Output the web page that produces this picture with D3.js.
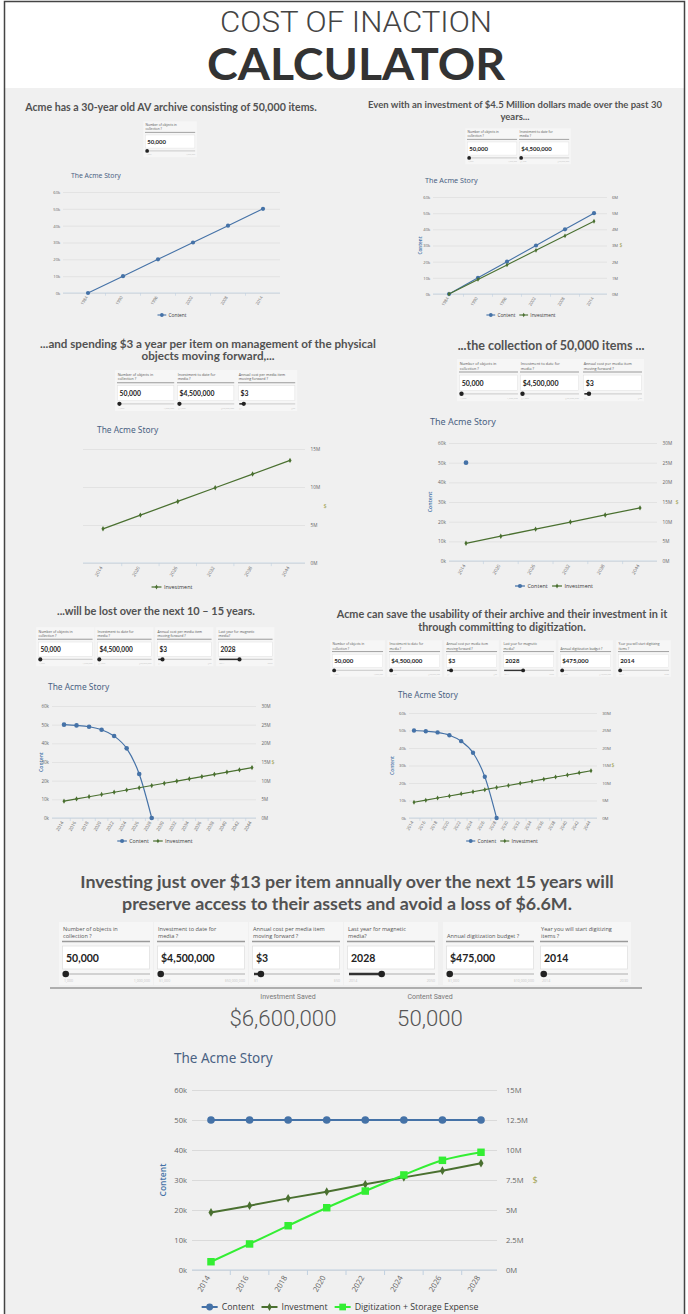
<!DOCTYPE html>
<html>
<head>
<meta charset="utf-8">
<script src="https://cdn.jsdelivr.net/npm/d3@7"></script>
<style>
body { margin: 0; background: #fff; }
svg text { font-family: "Open Sans", "DejaVu Sans", sans-serif; }
</style>
</head>
<body>
<svg id="page" width="688" height="1314"></svg>
<script>
// ---- data ----
var yearsPast = ["1984", "1990", "1996", "2002", "2008", "2014"]
var yearsFwd6 = ["2014", "2020", "2026", "2032", "2038", "2044"]
var yearsFwd2 = ["2014", "2016", "2018", "2020", "2022", "2024", "2026", "2028",
                 "2030", "2032", "2034", "2036", "2038", "2040", "2042", "2044"]
var yearsDigi = ["2014", "2016", "2018", "2020", "2022", "2024", "2026", "2028"]

var contentPast = [0, 10000, 20000, 30000, 40000, 50000]
var investPast  = [0, 900000, 1800000, 2700000, 3600000, 4500000]
var contentFwd6 = [50000, null, null, null, null, null]
var investFwd6  = [4500000, 6300000, 8100000, 9900000, 11700000, 13500000]
var contentLoss = [50000, 49600, 48900, 47300, 43900, 37300, 23600, 0,
                   null, null, null, null, null, null, null, null]
var investFwd2  = [4500000, 5100000, 5700000, 6300000, 6900000, 7500000, 8100000, 8700000,
                   9300000, 9900000, 10500000, 11100000, 11700000, 12300000, 12900000, 13500000]
var contentDigi = [50000, 50000, 50000, 50000, 50000, 50000, 50000, 50000]
var investDigi  = [4800000, 5360000, 5970000, 6530000, 7140000, 7720000, 8280000, 8900000]
var digiExpense = [690000, 2170000, 3690000, 5190000, 6580000, 7920000, 9140000, 9810000]

var contentTicks = [0, 10000, 20000, 30000, 40000, 50000, 60000]
var dollarTicks6  = [0, 1e6, 2e6, 3e6, 4e6, 5e6, 6e6]
var dollarTicks15 = [0, 5e6, 10e6, 15e6]
var dollarTicks30 = [0, 5e6, 10e6, 15e6, 20e6, 25e6, 30e6]
var dollarTicksDigi = [0, 2.5e6, 5e6, 7.5e6, 10e6, 12.5e6, 15e6]

var inputLabels = [["Number of objects in", "collection ?"], ["Investment to date for", "media ?"],
                   ["Annual cost per media item", "moving forward ?"], ["Last year for magnetic", "media?"],
                   ["Annual digitization budget ?"], ["Year you will start digitizing", "items ?"]]
var inputValues = ["50,000", "$4,500,000", "$3", "2028", "$475,000", "2014"]
var inputMin = ["1,000", "$1,000", "$1", "2014", "$1,000", "2014"]
var inputMax = ["1,000,000", "$50,000,000", "$50", "2050", "$10,000,000", "2030"]
var inputPos = [0.02, 0.02, 0.08, 0.38, 0.02, 0.02]

var savedLabels = ["Investment Saved", "Content Saved"]
var savedValues = ["$6,600,000", "50,000"]

var CONTENT = { name: "Content", color: "#4572a7", sym: d3.symbolCircle, size: 46 }
var INVEST  = { name: "Investment", color: "#4a7030", sym: d3.symbolDiamond, size: 22 }
var DIGI    = { name: "Digitization + Storage Expense", color: "#33ee33", sym: d3.symbolSquare, size: 56 }

var svg = d3.select("#page")
var fmtK = function(d) { return d / 1000 + "k" }
var fmtM = function(d) { return d / 1e6 + "M" }

// page background and frame
svg.append("rect").attr("width", 688).attr("height", 1314).attr("fill", "#fff")
svg.append("rect").attr("x", 5).attr("y", 88).attr("width", 679).attr("height", 1226).attr("fill", "#f0f0f0")
svg.append("rect").attr("x", 4.5).attr("y", 1.5).attr("width", 680).attr("height", 1330)
   .attr("fill", "none").attr("stroke", "#444").attr("stroke-width", 1.5)

// header
svg.append("text").attr("x", 356).attr("y", 32).attr("text-anchor", "middle")
   .attr("textLength", 272).attr("lengthAdjust", "spacingAndGlyphs")
   .style("font-family", "Roboto").style("font-weight", 300).style("font-size", "29px")
   .attr("fill", "#444").text("COST OF INACTION")
svg.append("text").attr("x", 356).attr("y", 80).attr("text-anchor", "middle")
   .attr("textLength", 298).attr("lengthAdjust", "spacingAndGlyphs")
   .style("font-family", "Lato").style("font-weight", 700).style("font-size", "43px")
   .attr("fill", "#333").text("CALCULATOR")

function fitText(t, w) {
  var fs = parseFloat(t.style("font-size"))
  fs = fs * w / t.node().getComputedTextLength()
  t.style("font-size", fs + "px")
  return fs
}

// story headings
var headings = [
  { lines: ["Acme has a 30-year old AV archive consisting of 50,000 items."], cx: 171, cy: 107, w: 292 },
  { lines: ["Even with an investment of $4.5 Million dollars made over the past 30", "years..."], cx: 515, cy: 105, w: 294, lh: 12 },
  { lines: ["...and spending $3 a year per item on management of the physical", "objects moving forward,..."], cx: 208, cy: 344, w: 336, lh: 12 },
  { lines: ["...the collection of 50,000 items ..."], cx: 551, cy: 346, w: 187 },
  { lines: ["...will be lost over the next 10 \u2013 15 years."], cx: 156, cy: 611, w: 198 },
  { lines: ["Acme can save the usability of their archive and their investment in it", "through committing to digitization."], cx: 502, cy: 614, w: 331, lh: 13 },
  { lines: ["Investing just over $13 per item annually over the next 15 years will", "preserve access to their assets and avoid a loss of $6.6M."], cx: 347, cy: 882, w: 534, lh: 22 }
]
headings.forEach(function(h) {
  var fs
  h.lines.forEach(function(l, j) {
    var t = svg.append("text").attr("x", h.cx).attr("text-anchor", "middle")
       .style("font-family", "Lato").style("font-weight", 700).style("font-size", "10px")
       .attr("fill", "#525252").text(l)
    if (j == 0) fs = fitText(t, h.w)
    else t.style("font-size", fs + "px")
    t.attr("y", h.cy + j * (h.lh || 0) + fs * 0.35)
  })
})

// input widgets
function drawInput(i, x, y, s) {
  var g = svg.append("g").attr("transform", "translate(" + x + "," + y + ") scale(" + s + ")")
  g.append("rect").attr("x", -3).attr("y", -3).attr("width", 94).attr("height", 63).attr("fill", "#f6f6f6")
  var lines = inputLabels[i]
  lines.forEach(function(l, j) {
    g.append("text").attr("x", 1).attr("y", lines.length == 1 ? 13 : 6 + 7 * j)
     .style("font-size", "5.6px").attr("fill", "#555").text(l)
  })
  g.append("line").attr("x1", 0).attr("x2", 88).attr("y1", 16.5).attr("y2", 16.5)
   .attr("stroke", "#9a9a9a").attr("stroke-width", 1.6)
  g.append("rect").attr("x", 0.5).attr("y", 21).attr("width", 87).attr("height", 23)
   .attr("fill", "#fff").attr("stroke", "#e0e0e0").attr("stroke-width", 0.8)
  g.append("text").attr("x", 4).attr("y", 37).style("font-family", "Lato").style("font-size", "10.5px")
   .style("font-weight", 700).attr("fill", "#222").text(inputValues[i])
  g.append("line").attr("x1", 2).attr("x2", 88).attr("y1", 49).attr("y2", 49)
   .attr("stroke", "#d2d2d2").attr("stroke-width", 2)
  var hx = 2 + inputPos[i] * 86
  g.append("line").attr("x1", 2).attr("x2", hx).attr("y1", 49).attr("y2", 49)
   .attr("stroke", "#333").attr("stroke-width", 2.4)
  g.append("circle").attr("cx", hx).attr("cy", 49).attr("r", 3.3).attr("fill", "#222")
  g.append("text").attr("x", 2).attr("y", 57).style("font-size", "3.6px").attr("fill", "#c6c6c6").text(inputMin[i])
  g.append("text").attr("x", 88).attr("y", 57).attr("text-anchor", "end").style("font-size", "3.6px")
   .attr("fill", "#c6c6c6").text(inputMax[i])
}

var inputSets = [
  { ids: [0], xs: [145], y: 123, s: 0.57 },
  { ids: [0, 1], xs: [467, 519], y: 130, s: 0.57 },
  { ids: [0, 1, 2], xs: [117, 177, 238], y: 372, s: 0.65 },
  { ids: [0, 1, 2], xs: [459, 520, 583], y: 361, s: 0.67 },
  { ids: [0, 1, 2, 3], xs: [38, 97, 157, 218], y: 629, s: 0.62 },
  { ids: [0, 1, 2, 3, 4, 5], xs: [332, 389, 446, 503, 560, 618], y: 642, s: 0.58 },
  { ids: [0, 1, 2, 3, 4, 5], xs: [62, 157, 252, 347, 446, 540], y: 925, s: 1 }
]
inputSets.forEach(function(set) {
  set.ids.forEach(function(id, j) { drawInput(id, set.xs[j], set.y, set.s) })
})

// results row
svg.append("line").attr("x1", 50).attr("x2", 642).attr("y1", 988).attr("y2", 988)
   .attr("stroke", "#999").attr("stroke-width", 1.6)
var savedX = [283, 430]
var bigFs
savedValues.forEach(function(v, i) {
  svg.append("text").attr("x", savedX[i] + (i == 0 ? 5 : 0)).attr("y", 999).attr("text-anchor", "middle")
     .style("font-family", "Roboto").style("font-size", "7px").attr("fill", "#777").text(savedLabels[i])
  var t = svg.append("text").attr("x", savedX[i]).attr("y", 1026).attr("text-anchor", "middle")
     .style("font-family", "Roboto").style("font-weight", 300).style("font-size", "24px")
     .attr("fill", "#555").text(v)
  if (i == 0) bigFs = fitText(t, 107)
  else t.style("font-size", bigFs + "px")
})

// charts
function drawLegend(items, cx, y, k) {
  var g = svg.append("g")
  var xcur = 0
  items.forEach(function(it) {
    var ig = g.append("g").attr("transform", "translate(" + xcur + ",0)")
    ig.append("line").attr("x1", 0).attr("x2", 16 * k).attr("stroke", it.color).attr("stroke-width", 2 * k)
    ig.append("path").attr("transform", "translate(" + 8 * k + ",0)")
      .attr("d", d3.symbol().type(it.sym).size(it.size * 0.8 * k * k)).attr("fill", it.color)
    var t = ig.append("text").attr("x", 20 * k).attr("dy", "0.35em").style("font-size", 8.8 * k + "px")
      .attr("fill", "#3a3a3a").text(it.name)
    xcur += 20 * k + t.node().getComputedTextLength() + 7 * k
  })
  var total = xcur - 7 * k
  g.attr("transform", "translate(" + (cx - total / 2) + "," + y + ")")
}

function drawChart(c) {
  var k = c.k
  var g = svg.append("g")
  var x = d3.scalePoint().domain(c.cats).range(c.pts)
  var yL = d3.scaleLinear().domain([0, 60000]).range([c.yBot, c.yTop])
  var yR = c.rightTicks ? d3.scaleLinear().domain([0, c.rightTicks[c.rightTicks.length - 1]]).range([c.yBot, c.yTop]) : null
  var gw = c.grid[1] - c.grid[0]
  var fs = 7.6 * k

  g.append("text").attr("x", c.title[0]).attr("y", c.title[1])
   .style("font-family", "Noto Sans").style("font-size", c.title[2] + "px")
   .attr("fill", "#4a6283").text("The Acme Story")

  var gs = c.leftLabels ? yL : yR
  var gt = c.leftLabels ? contentTicks : c.rightTicks
  g.append("g").attr("transform", "translate(" + c.grid[0] + ",0)")
   .call(d3.axisLeft(gs).tickValues(gt).tickSize(-gw).tickFormat(""))
   .call(function(a) {
     a.select(".domain").remove()
     a.selectAll("line").attr("stroke", "#dadada").attr("stroke-width", Math.max(0.6, k))
   })

  if (c.leftLabels) {
    g.append("g").attr("transform", "translate(" + (c.grid[0] - 5 * k) + ",0)")
     .call(d3.axisLeft(yL).tickValues(contentTicks).tickSize(0).tickPadding(0).tickFormat(fmtK))
     .call(function(a) {
       a.select(".domain").remove()
       a.selectAll("text").style("font-size", fs + "px").attr("fill", "#666")
     })
  }
  if (yR) {
    g.append("g").attr("transform", "translate(" + (c.grid[1] + 9 * k) + ",0)")
     .call(d3.axisRight(yR).tickValues(c.rightTicks).tickSize(0).tickPadding(0).tickFormat(fmtM))
     .call(function(a) {
       a.select(".domain").remove()
       a.selectAll("text").style("font-size", fs + "px").attr("fill", "#666")
     })
  }

  // x axis
  g.append("line").attr("x1", c.grid[0]).attr("x2", c.grid[1]).attr("y1", c.yBot).attr("y2", c.yBot)
   .attr("stroke", "#c0d0e0").attr("stroke-width", Math.max(0.8, k))
  var step = x.step()
  c.cats.forEach(function(cat, i) {
    if (i == 0) return
    var tx = x(cat) - step / 2
    g.append("line").attr("x1", tx).attr("x2", tx).attr("y1", c.yBot).attr("y2", c.yBot + 5 * k)
     .attr("stroke", "#c0d0e0").attr("stroke-width", Math.max(0.6, k))
  })
  g.append("g").attr("transform", "translate(0," + c.yBot + ")")
   .call(d3.axisBottom(x).tickSize(0).tickPadding(0))
   .call(function(a) {
     a.select(".domain").remove()
     a.selectAll("text").attr("y", 0).attr("x", -7 * k).attr("dy", "0.35em")
      .attr("transform", "rotate(-60)").style("text-anchor", "end")
      .style("font-size", fs + "px").attr("fill", "#666")
   })

  var midY = (c.yTop + c.yBot) / 2
  if (c.leftTitle) {
    g.append("text").attr("transform", "translate(" + c.leftTitle + "," + midY + ") rotate(-90)")
     .attr("text-anchor", "middle").attr("dy", "0.35em").style("font-size", 8.5 * k + "px")
     .style("font-weight", 600).attr("fill", "#4572a7").text("Content")
  }
  if (c.rightTitle) {
    g.append("text").attr("x", c.rightTitle).attr("y", midY).attr("text-anchor", "middle").attr("dy", "0.35em")
     .style("font-size", 9 * k + "px").attr("fill", "#a0a050").text("$")
  }

  c.series.forEach(function(s) {
    var ys = s.axis == "L" ? yL : yR
    var line = d3.line()
      .defined(function(d) { return d != null })
      .x(function(d, i) { return x(c.cats[i]) })
      .y(function(d) { return ys(d) })
      .curve(s.curve || d3.curveLinear)
    g.append("path").datum(s.data).attr("d", line).attr("fill", "none")
     .attr("stroke", s.spec.color).attr("stroke-width", 2 * k)
    var pts = s.data.map(function(d, i) { return { v: d, c: c.cats[i] } })
                    .filter(function(p) { return p.v != null })
    g.selectAll(null).data(pts).enter().append("path")
     .attr("transform", function(p) { return "translate(" + x(p.c) + "," + ys(p.v) + ")" })
     .attr("d", d3.symbol().type(s.spec.sym).size(s.spec.size * k * k))
     .attr("fill", s.spec.color)
  })

  drawLegend(c.series.map(function(s) { return s.spec }), c.legend[0], c.legend[1], k)
}

var charts = [
  { cats: yearsPast, grid: [63, 280], pts: [88, 263], yTop: 192, yBot: 293, k: 0.55,
    leftLabels: true, title: [71, 178, 6.8], legend: [172, 315],
    series: [{ spec: CONTENT, data: contentPast, axis: "L" }] },
  { cats: yearsPast, grid: [433, 607], pts: [449, 594], yTop: 197, yBot: 294, k: 0.55,
    leftLabels: true, rightTicks: dollarTicks6, leftTitle: 420, rightTitle: 621,
    title: [425, 183, 7.2], legend: [521, 315],
    series: [{ spec: CONTENT, data: contentPast, axis: "L" }, { spec: INVEST, data: investPast, axis: "R" }] },
  { cats: yearsFwd6, grid: [83, 305], pts: [103, 290], yTop: 449, yBot: 563, k: 0.62,
    rightTicks: dollarTicks15, rightTitle: 325, title: [97, 433, 8.4], legend: [172, 587],
    series: [{ spec: INVEST, data: investFwd6, axis: "R" }] },
  { cats: yearsFwd6, grid: [449, 657], pts: [466, 640], yTop: 443, yBot: 561, k: 0.62,
    leftLabels: true, rightTicks: dollarTicks30, leftTitle: 430, rightTitle: 677,
    title: [430, 425, 9], legend: [554, 586],
    series: [{ spec: CONTENT, data: contentFwd6, axis: "L" }, { spec: INVEST, data: investFwd6, axis: "R" }] },
  { cats: yearsFwd2, grid: [52, 256], pts: [64, 252], yTop: 706, yBot: 818, k: 0.6,
    leftLabels: true, rightTicks: dollarTicks30, leftTitle: 41, rightTitle: 273,
    title: [48, 690, 8.4], legend: [155, 841],
    series: [{ spec: CONTENT, data: contentLoss, axis: "L", curve: d3.curveMonotoneX },
             { spec: INVEST, data: investFwd2, axis: "R" }] },
  { cats: yearsFwd2, grid: [409, 597], pts: [414, 591], yTop: 713, yBot: 818, k: 0.57,
    leftLabels: true, rightTicks: dollarTicks30, leftTitle: 392, rightTitle: 613,
    title: [398, 698, 8.2], legend: [502, 841],
    series: [{ spec: CONTENT, data: contentLoss, axis: "L", curve: d3.curveMonotoneX },
             { spec: INVEST, data: investFwd2, axis: "R" }] },
  { cats: yearsDigi, grid: [192, 497], pts: [211, 481], yTop: 1090, yBot: 1270, k: 1,
    leftLabels: true, rightTicks: dollarTicksDigi, leftTitle: 163, rightTitle: 535,
    title: [174, 1063, 13.5], legend: [340, 1307],
    series: [{ spec: CONTENT, data: contentDigi, axis: "L" },
             { spec: INVEST, data: investDigi, axis: "R" },
             { spec: DIGI, data: digiExpense, axis: "R", curve: d3.curveMonotoneX }] }
]
charts.forEach(drawChart)
</script>
</body>
</html>
